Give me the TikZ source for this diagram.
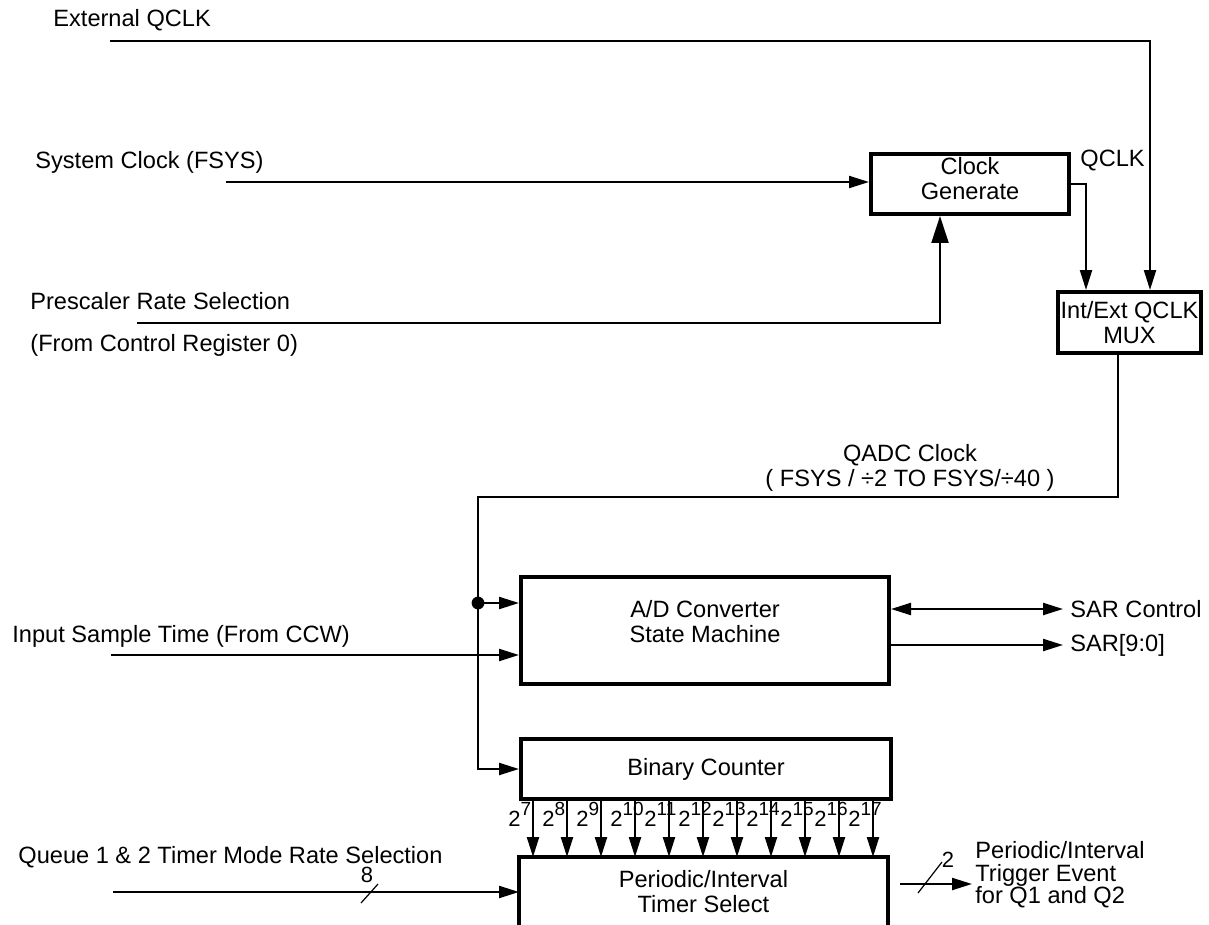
\documentclass[tikz,border=0pt]{standalone}
\usepackage{fontspec}
\setmainfont{Liberation Sans}
\usetikzlibrary{positioning,arrows.meta,calc}
\tikzset{
  block/.style={draw, line width=2pt, inner sep=0pt, align=center, anchor=north west},
  sig/.style={-{Triangle[length=10pt,width=6pt]}, line width=1.1pt},
  dsig/.style={{Triangle[length=10pt,width=6pt]}-{Triangle[length=10pt,width=6pt]}, line width=1.1pt},
  bigsig/.style={-{Triangle[length=13.5pt,width=8.5pt]}, line width=1.1pt},
  txt/.style={inner sep=0pt, anchor=west},
  bus/.style={line width=0.6pt},
  small/.style={inner sep=0pt, font=\fontsize{11}{12}\selectfont},
}

\begin{document}
\begin{tikzpicture}[x=0.5pt, y=-0.5pt, font=\fontsize{11.8}{12.5}\selectfont]
  \useasboundingbox (0,0) rectangle (1209,925);
  % blocks
  \node[block, minimum width=99pt, minimum height=30pt,
    label={[align=center, inner sep=0pt, yshift=2.5pt]center:{Clock\\Generate}}] (clk) at (869,152) {};
  \node[block, minimum width=71.5pt, minimum height=30.5pt] (mux) at (1056,290) {Int/Ext QCLK\\MUX};
  \node[block, minimum width=184pt, minimum height=53.5pt,
    label={[align=center, inner sep=0pt, yshift=4.5pt]center:{A/D Converter\\State Machine}}] (ad) at (519,575) {};
  \node[block, minimum width=185pt, minimum height=30pt] (bc) at (519,737) {Binary Counter};
  \node[inner sep=0pt, anchor=north west, minimum width=184pt, minimum height=34pt, align=center] (pit) at (519,857) {Periodic/Interval\\Timer Select};
  \draw[line width=2pt] (pit.south west) -- (pit.north west) -- (pit.north east) -- (pit.south east);

  % clock inputs
  \node[txt] (extlbl) at (53,20) {External QCLK};
  \coordinate (extin) at (110,41);
  \draw[sig] (extin) -| ($(mux.north west)+(94,0)$);
  \node[txt] (syslbl) at (35,162) {System Clock (FSYS)};
  \coordinate (sysin) at (226,182);
  \draw[sig] (sysin) -- (sysin -| clk.west);
  \node[txt] (prelbl) at (30,301) {Prescaler Rate Selection};
  \node[txt] (prelbl2) at (30,345) {(From Control Register 0)};
  \coordinate (prein) at (137,323);
  \draw[bigsig] (prein) -| ($(clk.south west)+(71,0)$);
  \node[txt] (qclklbl) at (1080,160) {QCLK};
  \draw[sig] (clk.east) -| ($(mux.north west)+(30,0)$);

  % QADC clock
  \coordinate (bend) at (478,497);
  \coordinate (junc) at (478,603);
  \draw[line width=1.1pt] ($(mux.south west)+(62,0)$) |- (bend) -- (junc);
  \node[align=center, inner sep=0pt] (qadclbl) at (910,468) {QADC Clock\\( FSYS / ÷2 TO FSYS/÷40 )};
  \fill (junc) circle[radius=3.2pt];
  \draw[sig] (junc) -- (junc -| ad.west);
  \draw[sig] (junc) |- (bc.west);
  \node[txt] (ccwlbl) at (12,636) {Input Sample Time (From CCW)};
  \coordinate (ccwin) at (111,655);
  \draw[sig] (ccwin) -- (ccwin -| ad.west);

  % SAR outputs
  \node[txt] (sarc) at (1070,609) {SAR Control};
  \node[txt] (sard) at (1070,645) {SAR[9:0]};
  \draw[dsig] (sarc.west -| ad.east) -- ($(sarc.west)+(-7,0)$);
  \draw[sig] (sard.west -| ad.east) -- ($(sard.west)+(-7,0)$);

  % counter taps
  \foreach \k [evaluate=\k as \dx using 14+34*(\k-7)] in {7,...,17} {
    \draw[sig] ($(bc.south west)+(\dx,0)$) -- ($(pit.north west)+(\dx,0)$);
    \node[small, anchor=base west] (b\k) at ($(bc.south west)+(\dx-25,25)$) {2\raisebox{5.5pt}{\fontsize{9.5}{10}\selectfont\k}};
  }

  % timer mode selection
  \node[txt] (qlbl) at (18,857) {Queue 1 \& 2 Timer Mode Rate Selection};
  \coordinate (qin) at (113,892);
  \draw[sig] (qin) -- (qin -| pit.west);
  \coordinate (qslash) at (369,892);
  \draw[bus] ($(qslash)+(-8,11)$) -- ($(qslash)+(9,-8)$);
  \node[small] (qbits) at (367,875) {8};

  % trigger output
  \node[txt, align=left, font=\fontsize{11.8}{11.2}\selectfont] (trig) at (975,875) {Periodic/Interval\\Trigger Event\\for Q1 and Q2};
  \coordinate (pitout) at (900,884);
  \draw[sig] (pitout) -- ($(pitout -| trig.west)+(-3,0)$);
  \coordinate (oslash) at (930,878);
  \draw[bus] ($(oslash)+(-12,15)$) -- ($(oslash)+(12,-16)$);
  \node[small] (obits) at (948,860) {2};
\end{tikzpicture}
\end{document}
